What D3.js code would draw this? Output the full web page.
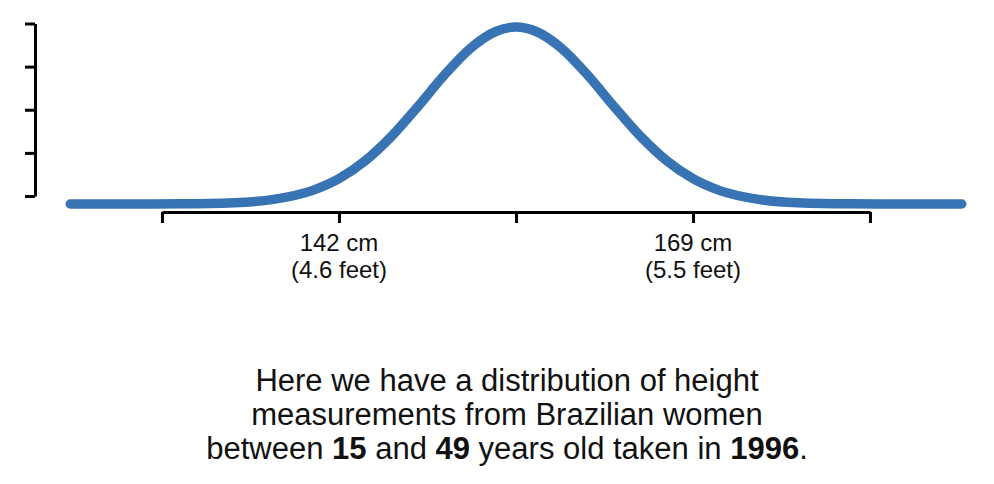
<!DOCTYPE html>
<html>
<head>
<meta charset="utf-8">
<script src="https://cdn.jsdelivr.net/npm/d3@7"></script>
<style>
  html, body { margin: 0; padding: 0; background: #fff; }
  svg { display: block; font-family: "Liberation Sans", Arial, Helvetica, sans-serif; }
</style>
</head>
<body>
<svg id="chart" width="994" height="484"></svg>
<script>
// height (cm) along the curve, and curve height as a share of the peak
var heightsCm = [121.5, 126, 130, 134, 137, 140, 142, 144, 146, 148, 150, 152, 154, 155.5,
                 157, 159, 161, 163, 165, 167, 169, 171, 174, 177, 181, 185, 189.5];
var density   = [0, 0.0001, 0.001, 0.007, 0.026, 0.077, 0.143, 0.244, 0.382, 0.549, 0.725, 0.878, 0.976, 1,
                 0.976, 0.878, 0.725, 0.549, 0.382, 0.244, 0.143, 0.077, 0.026, 0.007, 0.001, 0.0001, 0];

var xTicks = [128.5, 142, 155.5, 169, 182.5];
var xLabels = { 142: ["142 cm", "(4.6 feet)"], 169: ["169 cm", "(5.5 feet)"] };
var yTicks = [0, 1, 2, 3, 4];

var caption = [
  [["Here we have a distribution of height", false]],
  [["measurements from Brazilian women", false]],
  [["between ", false], ["15", true], [" and ", false], ["49", true],
   [" years old taken in ", false], ["1996", true], [".", false]]
];

var svg = d3.select("#chart");

var x = d3.scaleLinear().domain([128.5, 182.5]).range([162, 870]);
var yAxisScale = d3.scaleLinear().domain([0, 4]).range([196, 23.5]);
var y = d3.scaleLinear().domain([0, 1]).range([204, 27]);

// y axis (no labels)
var gy = svg.append("g")
    .attr("transform", "translate(35,0)")
    .call(d3.axisLeft(yAxisScale).tickValues(yTicks).tickFormat("").tickSize(10).tickSizeOuter(0));
gy.select(".domain").attr("stroke", "#000").attr("stroke-width", 3);
gy.selectAll(".tick line").attr("stroke", "#000").attr("stroke-width", 3);

// x axis
var gx = svg.append("g")
    .attr("transform", "translate(0,212)")
    .call(d3.axisBottom(x).tickValues(xTicks).tickFormat("").tickSize(11).tickSizeOuter(0));
gx.select(".domain").attr("stroke", "#000").attr("stroke-width", 3);
gx.selectAll(".tick line").attr("stroke", "#000").attr("stroke-width", 3);

// x labels
xTicks.forEach(function(t) {
    if (!xLabels[t]) return;
    xLabels[t].forEach(function(s, i) {
        svg.append("text")
            .attr("x", x(t))
            .attr("y", 251 + i * 27)
            .attr("text-anchor", "middle")
            .attr("font-size", 24)
            .attr("fill", "#111")
            .text(s);
    });
});

// the curve
var pts = heightsCm.map(function(h, i) { return [h, density[i]]; });
var line = d3.line()
    .x(function(d) { return x(d[0]); })
    .y(function(d) { return y(d[1]); })
    .curve(d3.curveMonotoneX);

svg.append("path")
    .datum(pts)
    .attr("d", line)
    .attr("fill", "none")
    .attr("stroke", "#3873b4")
    .attr("stroke-width", 9.5)
    .attr("stroke-linecap", "round")
    .attr("stroke-linejoin", "round");

// caption
caption.forEach(function(parts, i) {
    var t = svg.append("text")
        .attr("x", 507)
        .attr("y", 391 + i * 34)
        .attr("text-anchor", "middle")
        .attr("font-size", 31)
        .attr("fill", "#111");
    parts.forEach(function(p) {
        t.append("tspan").attr("font-weight", p[1] ? "bold" : "normal").text(p[0]);
    });
});
</script>
</body>
</html>
